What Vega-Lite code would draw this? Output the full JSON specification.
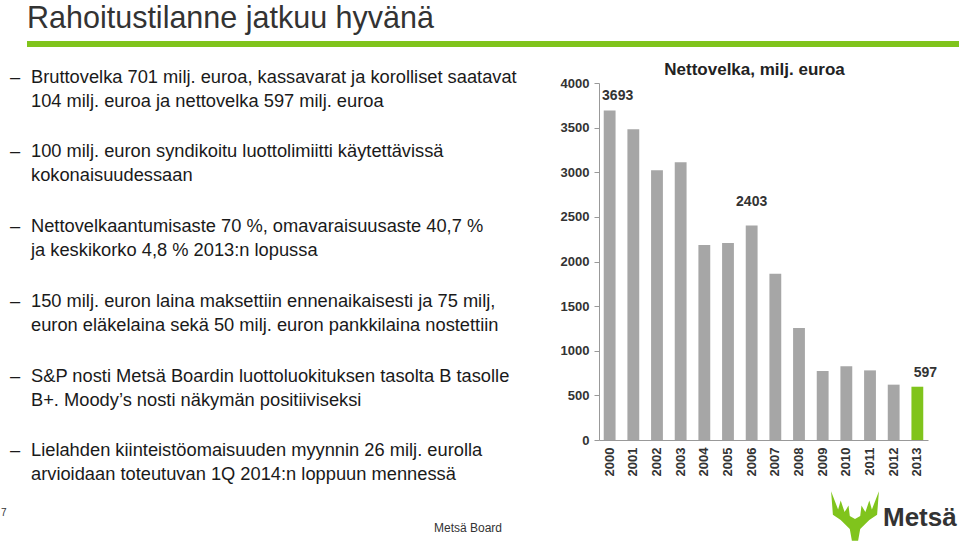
{
  "$schema": "https://vega.github.io/schema/vega-lite/v6.json",
  "padding": {"left": 0, "top": 0, "right": 0, "bottom": 0},
  "background": "white",
  "config": {
    "view": {"stroke": null},
    "font": "Liberation Sans"
  },
  "bounds": "flush",
  "center": true,
  "spacing": 0,
  "hconcat": [
    {
      "width": 599,
      "height": 523,
      "data": {"values": [
        {"n": 1, "text": "Bruttovelka 701 milj. euroa, kassavarat ja korolliset saatavat\n104 milj. euroa ja nettovelka 597 milj. euroa"},
        {"n": 2, "text": "100 milj. euron syndikoitu luottolimiitti käytettävissä\nkokonaisuudessaan"},
        {"n": 3, "text": "Nettovelkaantumisaste 70 %, omavaraisuusaste 40,7 %\nja keskikorko 4,8 % 2013:n lopussa"},
        {"n": 4, "text": "150 milj. euron laina maksettiin ennenaikaisesti ja 75 milj,\neuron eläkelaina sekä 50 milj. euron pankkilaina nostettiin"},
        {"n": 5, "text": "S&P nosti Metsä Boardin luottoluokituksen tasolta B tasolle\nB+. Moody’s nosti näkymän positiiviseksi"},
        {"n": 6, "text": "Lielahden kiinteistöomaisuuden myynnin 26 milj. eurolla\narvioidaan toteutuvan 1Q 2014:n loppuun mennessä"}
      ]},
      "layer": [
        {
          "mark": {"type": "text", "text": "–", "align": "left", "baseline": "alphabetic", "fontSize": 18.3, "color": "#1a1a1a", "dy": 8},
          "encoding": {
            "x": {"value": 10},
            "y": {"field": "n", "type": "ordinal", "axis": null, "scale": {"type": "point", "padding": 1.0625}}
          }
        },
        {
          "mark": {"type": "text", "align": "left", "baseline": "alphabetic", "fontSize": 18.3, "lineBreak": "\n", "lineHeight": 24, "color": "#1a1a1a", "dy": 8},
          "encoding": {
            "x": {"value": 31},
            "y": {"field": "n", "type": "ordinal", "axis": null},
            "text": {"field": "text"}
          }
        },
        {
          "data": {"values": [{"text": "Rahoitustilanne jatkuu hyvänä"}]},
          "mark": {"type": "text", "align": "left", "baseline": "alphabetic", "fontSize": 30.5, "color": "#333333"},
          "encoding": {"x": {"value": 27}, "y": {"value": 28}, "text": {"field": "text"}}
        },
        {
          "data": {"values": [{"part": "title rule"}]},
          "mark": {"type": "rule", "color": "#80C41C", "strokeWidth": 6},
          "encoding": {"x": {"value": 27}, "x2": {"value": 959}, "y": {"value": 44}}
        },
        {
          "data": {"values": [{"text": "7"}]},
          "mark": {"type": "text", "fontSize": 10, "color": "#333333", "align": "left", "baseline": "middle"},
          "encoding": {"x": {"value": 1}, "y": {"value": 513}, "text": {"field": "text"}}
        },
        {
          "data": {"values": [{"text": "Metsä Board"}]},
          "mark": {"type": "text", "fontSize": 12, "color": "#333333", "align": "center", "baseline": "middle"},
          "encoding": {"x": {"value": 468}, "y": {"value": 528}, "text": {"field": "text"}}
        },
        {
          "data": {"values": [{"text": "Metsä"}]},
          "mark": {"type": "text", "fontSize": 26, "fontWeight": "bold", "color": "#333333", "align": "left", "baseline": "alphabetic"},
          "encoding": {"x": {"value": 883}, "y": {"value": 526}, "text": {"field": "text"}}
        },
        {
          "data": {"values": [{"part": "logo"}]},
          "mark": {"type": "point", "filled": true, "opacity": 1, "color": "#80C41C", "size": 2704, "shape": "M -0.12 0.95 L -0.2 0.5 L -0.55 0.15 L -0.85 -0.05 L -0.92 -0.95 L -0.65 -0.25 L -0.55 -0.6 L -0.4 -0.15 L -0.25 -0.4 L -0.2 0 L 0 0.12 L 0.2 0 L 0.25 -0.4 L 0.4 -0.15 L 0.55 -0.6 L 0.65 -0.25 L 0.92 -0.95 L 0.85 -0.05 L 0.55 0.15 L 0.2 0.5 L 0.12 0.95 Z"},
          "encoding": {"x": {"value": 855}, "y": {"value": 516}}
        }
      ]
    },
    {
      "width": 329,
      "height": 357,
      "title": {"text": "Nettovelka, milj. euroa", "fontSize": 17, "fontWeight": "bold", "color": "#222222", "baseline": "alphabetic", "offset": -15, "anchor": "middle", "dx": -9},
      "data": {"values": [
        {"year": "2000", "value": 3693},
        {"year": "2001", "value": 3482},
        {"year": "2002", "value": 3023},
        {"year": "2003", "value": 3112},
        {"year": "2004", "value": 2186},
        {"year": "2005", "value": 2208},
        {"year": "2006", "value": 2403},
        {"year": "2007", "value": 1864},
        {"year": "2008", "value": 1255},
        {"year": "2009", "value": 773},
        {"year": "2010", "value": 825},
        {"year": "2011", "value": 780},
        {"year": "2012", "value": 620},
        {"year": "2013", "value": 597}
      ]},
      "encoding": {
        "x": {"field": "year", "type": "ordinal", "scale": {"paddingInner": 0.5, "paddingOuter": 0.2},
          "axis": {"title": null, "labelAngle": -90, "labelAlign": "right", "labelBaseline": "middle", "labelFontSize": 13, "labelFontWeight": "bold", "labelColor": "#333333", "ticks": false, "tickSize": 0, "labelPadding": 7, "domainColor": "#999999"}},
        "y": {"field": "value", "type": "quantitative", "scale": {"domain": [0, 4000]},
          "axis": {"title": null, "values": [0, 500, 1000, 1500, 2000, 2500, 3000, 3500, 4000], "format": "d", "grid": false, "labelFontSize": 13, "labelFontWeight": "bold", "labelColor": "#333333", "domainColor": "#999999", "tickColor": "#999999", "tickSize": 5, "labelPadding": 5}}
      },
      "layer": [
        {
          "mark": {"type": "bar"},
          "encoding": {"color": {"condition": {"test": "datum.year === '2013'", "value": "#80C41C"}, "value": "#A6A6A6"}}
        },
        {
          "transform": [{"filter": "datum.year === '2000' || datum.year === '2013'"}],
          "mark": {"type": "text", "fontSize": 14, "fontWeight": "bold", "color": "#333333", "baseline": "alphabetic", "dx": 8, "dy": -10},
          "encoding": {"text": {"field": "value", "type": "quantitative", "format": "d"}}
        },
        {
          "transform": [{"filter": "datum.year === '2006'"}],
          "mark": {"type": "text", "fontSize": 14, "fontWeight": "bold", "color": "#333333", "baseline": "alphabetic", "dy": -20},
          "encoding": {"text": {"field": "value", "type": "quantitative", "format": "d"}}
        }
      ]
    }
  ]
}
